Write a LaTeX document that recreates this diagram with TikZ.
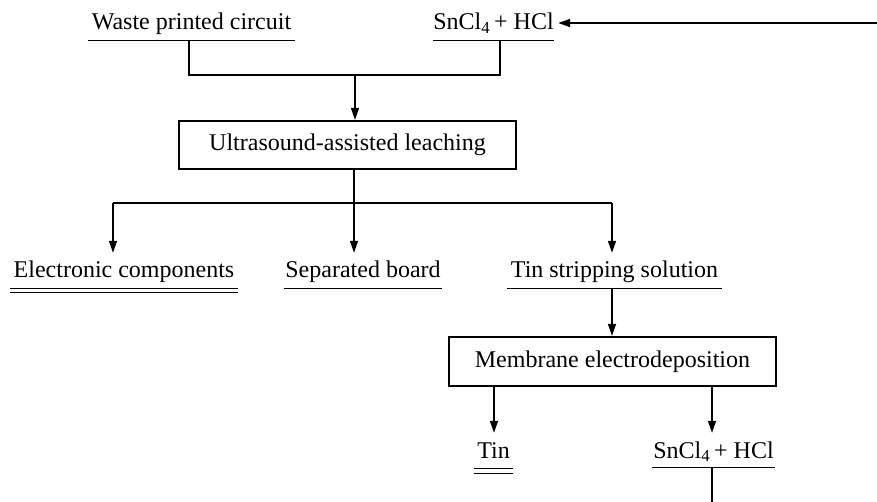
\documentclass[tikz,border=0pt]{standalone}
\usepackage{fontspec}
\setmainfont{Liberation Serif}
\usetikzlibrary{arrows.meta}
\begin{document}
\begin{tikzpicture}[x=1pt,y=-1pt,
  lbl/.style={inner sep=0pt, anchor=base, text height=25pt, text depth=10pt, font=\fontsize{24}{28}\selectfont},
  proc/.style={draw, line width=2.2pt, inner sep=0pt, font=\fontsize{24}{28}\selectfont},
  ln/.style={line width=1.5pt},
  ul/.style={line width=1.3pt},
  arr/.style={line width=1.5pt, -{Triangle[length=12pt,width=8pt]}}]
\useasboundingbox (0,0) rectangle (877,502);

% nodes
\node[lbl, minimum width=207pt] (waste) at (191.5,30) {Waste printed circuit};
\node[lbl, minimum width=121pt] (sn1) at (493.5,30) {SnCl\textsubscript{4}\,+ HCl};
\node[proc, minimum width=337pt, minimum height=48pt] (leach) at (347.5,145) {Ultrasound-assisted leaching};
\node[lbl, minimum width=228pt] (elec) at (124,278) {Electronic components};
\node[lbl, minimum width=158pt] (sep) at (363,278) {Separated board};
\node[lbl, minimum width=215pt] (tinsol) at (614.5,278) {Tin stripping solution};
\node[proc, minimum width=327pt, minimum height=49pt] (memb) at (612.5,361.5) {Membrane electrodeposition};
\node[lbl, minimum width=39pt, text depth=10.5pt] (tin) at (493.5,458) {Tin};
\node[lbl, minimum width=123pt, text depth=9pt] (sn2) at (713.5,458) {SnCl\textsubscript{4}\,+ HCl};

% underlines
\draw[ul] (waste.south west) -- (waste.south east);
\draw[ul] (sn1.south west) -- (sn1.south east);
\draw[ul] (elec.south west) -- (elec.south east);
\draw[ul] ([yshift=-4pt]elec.south west) -- ([yshift=-4pt]elec.south east);
\draw[ul] (sep.south west) -- (sep.south east);
\draw[ul] (tinsol.south west) -- (tinsol.south east);
\draw[ul] (tin.south west) -- (tin.south east);
\draw[ul] ([yshift=-5pt]tin.south west) -- ([yshift=-5pt]tin.south east);
\draw[ul] (sn2.south west) -- (sn2.south east);

% junctions
\coordinate (j1) at (189,75);
\coordinate (j2) at (500,75);
\coordinate (j3) at (355,75);
\coordinate (k) at (354,203);
\coordinate (kl) at (113,203);
\coordinate (kr) at (612,203);
\coordinate (m1) at (494,0);
\coordinate (m2) at (712,0);
\coordinate (bot) at (712,502);
\coordinate (rt) at (877,23);

% connectors
\draw[ln] (waste.south -| j1) -- (j1) -- (j2) -- (sn1.south -| j2);
\draw[arr] (j3) -- (leach.north -| j3);
\draw[ln] (leach.south -| k) -- (k);
\draw[ln] (kl) -- (kr);
\draw[arr] (kl) -- (elec.north -| kl);
\draw[arr] (k) -- (sep.north -| k);
\draw[arr] (kr) -- (tinsol.north -| kr);
\draw[arr] (tinsol.south -| kr) -- (memb.north -| kr);
\draw[arr] (memb.south -| m1) -- (tin.north -| m1);
\draw[arr] (memb.south -| m2) -- (sn2.north -| m2);
\draw[ln] (sn2.south -| m2) -- (bot);
\draw[arr] (rt) -- ([xshift=4pt]sn1.east |- rt);
\end{tikzpicture}
\end{document}
